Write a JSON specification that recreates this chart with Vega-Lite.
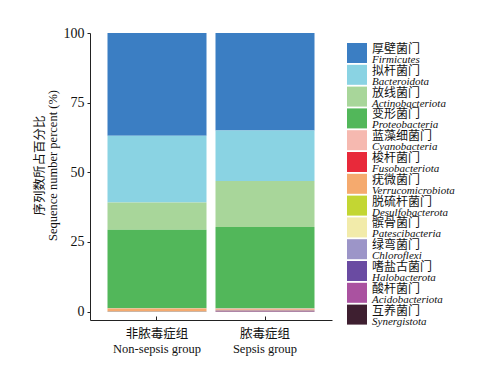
{
  "$schema": "https://vega.github.io/schema/vega-lite/v6.json",
  "autosize": {"type": "none"},
  "padding": {"left": 90, "top": 33, "right": 170, "bottom": 59},
  "width": 242,
  "height": 287,
  "background": "white",
  "config": {"view": {"stroke": null}},
  "data": {
    "values": [
      {"group": "非脓毒症组|Non-sepsis group", "k": 1, "cn": "厚壁菌门", "en": "Firmicutes", "value": 36.9},
      {"group": "非脓毒症组|Non-sepsis group", "k": 2, "cn": "拟杆菌门", "en": "Bacteroidota", "value": 23.9},
      {"group": "非脓毒症组|Non-sepsis group", "k": 3, "cn": "放线菌门", "en": "Actinobacteriota", "value": 9.8},
      {"group": "非脓毒症组|Non-sepsis group", "k": 4, "cn": "变形菌门", "en": "Proteobacteria", "value": 28.2},
      {"group": "非脓毒症组|Non-sepsis group", "k": 5, "cn": "蓝藻细菌门", "en": "Cyanobacteria", "value": 0.05},
      {"group": "非脓毒症组|Non-sepsis group", "k": 6, "cn": "梭杆菌门", "en": "Fusobacteriota", "value": 0.02},
      {"group": "非脓毒症组|Non-sepsis group", "k": 7, "cn": "疣微菌门", "en": "Verrucomicrobiota", "value": 0.98},
      {"group": "非脓毒症组|Non-sepsis group", "k": 8, "cn": "脱硫杆菌门", "en": "Desulfobacterota", "value": 0.05},
      {"group": "非脓毒症组|Non-sepsis group", "k": 9, "cn": "髌骨菌门", "en": "Patescibacteria", "value": 0.03},
      {"group": "非脓毒症组|Non-sepsis group", "k": 10, "cn": "绿弯菌门", "en": "Chloroflexi", "value": 0.02},
      {"group": "非脓毒症组|Non-sepsis group", "k": 11, "cn": "嗜盐古菌门", "en": "Halobacterota", "value": 0.01},
      {"group": "非脓毒症组|Non-sepsis group", "k": 12, "cn": "酸杆菌门", "en": "Acidobacteriota", "value": 0.02},
      {"group": "非脓毒症组|Non-sepsis group", "k": 13, "cn": "互养菌门", "en": "Synergistota", "value": 0.02},
      {"group": "脓毒症组|Sepsis group", "k": 1, "cn": "厚壁菌门", "en": "Firmicutes", "value": 35.0},
      {"group": "脓毒症组|Sepsis group", "k": 2, "cn": "拟杆菌门", "en": "Bacteroidota", "value": 18.1},
      {"group": "脓毒症组|Sepsis group", "k": 3, "cn": "放线菌门", "en": "Actinobacteriota", "value": 16.5},
      {"group": "脓毒症组|Sepsis group", "k": 4, "cn": "变形菌门", "en": "Proteobacteria", "value": 29.25},
      {"group": "脓毒症组|Sepsis group", "k": 5, "cn": "蓝藻细菌门", "en": "Cyanobacteria", "value": 0.3},
      {"group": "脓毒症组|Sepsis group", "k": 6, "cn": "梭杆菌门", "en": "Fusobacteriota", "value": 0.05},
      {"group": "脓毒症组|Sepsis group", "k": 7, "cn": "疣微菌门", "en": "Verrucomicrobiota", "value": 0.3},
      {"group": "脓毒症组|Sepsis group", "k": 8, "cn": "脱硫杆菌门", "en": "Desulfobacterota", "value": 0.05},
      {"group": "脓毒症组|Sepsis group", "k": 9, "cn": "髌骨菌门", "en": "Patescibacteria", "value": 0.03},
      {"group": "脓毒症组|Sepsis group", "k": 10, "cn": "绿弯菌门", "en": "Chloroflexi", "value": 0.05},
      {"group": "脓毒症组|Sepsis group", "k": 11, "cn": "嗜盐古菌门", "en": "Halobacterota", "value": 0.05},
      {"group": "脓毒症组|Sepsis group", "k": 12, "cn": "酸杆菌门", "en": "Acidobacteriota", "value": 0.3},
      {"group": "脓毒症组|Sepsis group", "k": 13, "cn": "互养菌门", "en": "Synergistota", "value": 0.02}
    ]
  },
  "mark": {"type": "bar", "strokeWidth": 0},
  "encoding": {
    "x": {
      "field": "group", "type": "nominal", "sort": null,
      "scale": {"paddingInner": 0.0833, "paddingOuter": 0.162},
      "axis": {
        "title": null, "labelAngle": 0,
        "labelExpr": "split(datum.label, '|')",
        "labelFont": "Liberation Serif, Noto Sans CJK SC", "labelFontSize": 12.5,
        "labelColor": "#111", "labelLineHeight": 15,
        "domainColor": "#222", "domainWidth": 1,
        "tickColor": "#222", "tickSize": -4, "labelPadding": 11
      }
    },
    "y": {
      "field": "value", "type": "quantitative", "stack": "zero",
      "scale": {"domain": [-3, 100], "nice": false, "zero": false},
      "axis": {
        "values": [0, 25, 50, 75, 100], "grid": false,
        "title": ["序列数所占百分比", "Sequence number percent (%)"],
        "titleFont": "Liberation Serif, Noto Sans CJK SC", "titleFontSize": 12.5,
        "titleFontWeight": "normal", "titleColor": "#111",
        "titleLineHeight": 13, "titleX": -51, "titleY": 132,
        "titleBaseline": "middle", "titleAlign": "center",
        "labelFont": "Liberation Serif", "labelFontSize": 14, "labelColor": "#111",
        "domainColor": "#222", "tickColor": "#222", "tickSize": 3, "labelPadding": 3
      }
    },
    "order": {"field": "k", "sort": "descending"},
    "color": {
      "field": "cn", "type": "nominal",
      "scale": {
        "domain": ["厚壁菌门", "拟杆菌门", "放线菌门", "变形菌门", "蓝藻细菌门", "梭杆菌门", "疣微菌门", "脱硫杆菌门", "髌骨菌门", "绿弯菌门", "嗜盐古菌门", "酸杆菌门", "互养菌门"],
        "range": ["#3B7EC3", "#8AD3E3", "#A8D69A", "#52B75A", "#F6B9B0", "#E8293A", "#F5AA6E", "#C3D633", "#F2EBAA", "#9C95C8", "#6A4BA2", "#AA52A0", "#3E1F30"]
      },
      "legend": {
        "title": null, "orient": "none", "legendX": 257, "legendY": 10, "padding": 0,
        "symbolType": "square", "symbolSize": 400, "symbolStrokeWidth": 0, "symbolOpacity": 1,
        "rowPadding": 1.8, "labelOffset": 5, "labelBaseline": "alphabetic",
        "labelFont": "Liberation Serif, Noto Sans CJK SC", "labelFontSize": 12, "labelColor": "#111"
      }
    },
    "stroke": {
      "field": "en", "type": "nominal",
      "scale": {
        "domain": ["Firmicutes", "Bacteroidota", "Actinobacteriota", "Proteobacteria", "Cyanobacteria", "Fusobacteriota", "Verrucomicrobiota", "Desulfobacterota", "Patescibacteria", "Chloroflexi", "Halobacterota", "Acidobacteriota", "Synergistota"],
        "range": ["#3B7EC3", "#8AD3E3", "#A8D69A", "#52B75A", "#F6B9B0", "#E8293A", "#F5AA6E", "#C3D633", "#F2EBAA", "#9C95C8", "#6A4BA2", "#AA52A0", "#3E1F30"]
      },
      "legend": {
        "title": null, "orient": "none", "legendX": 257, "legendY": 20, "padding": 0,
        "symbolType": "square", "symbolSize": 400, "symbolStrokeWidth": 0, "symbolOpacity": 0,
        "rowPadding": 1.8, "labelOffset": 5, "labelBaseline": "alphabetic",
        "labelFont": "Liberation Serif", "labelFontStyle": "italic", "labelFontSize": 11, "labelColor": "#111"
      }
    }
  }
}
